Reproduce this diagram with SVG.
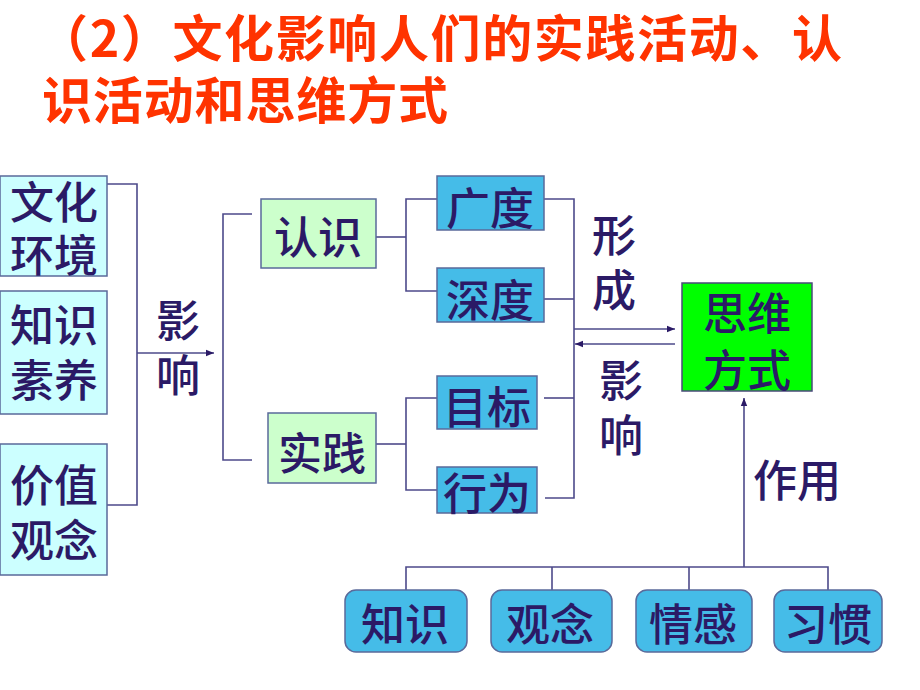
<svg xmlns="http://www.w3.org/2000/svg" width="920" height="690" viewBox="0 0 920 690">
<defs>
<style>
.title{font-family:"Noto Sans CJK SC","Noto Sans",sans-serif;font-weight:700;font-size:50px;fill:#FF3300}
.t{font-family:"Noto Sans CJK SC","Noto Sans",sans-serif;font-weight:500;font-size:44px;fill:#2B1A66;text-anchor:middle}
.cy{fill:#CCFFFF;stroke:#5A6A9A;stroke-width:1.5}
.gr{fill:#CCFFCC;stroke:#5A6A9A;stroke-width:1.5}
.bl{fill:#45BCE8;stroke:#5A6A9A;stroke-width:1.5}
.lg{fill:#00FF00;stroke:#4A4A7A;stroke-width:1.5}
.ln{fill:none;stroke:#4D4A8A;stroke-width:1.6}
</style>
<marker id="ah" viewBox="0 0 10 10" refX="10" refY="5" markerWidth="8" markerHeight="8" markerUnits="userSpaceOnUse" orient="auto">
<path d="M0,1 L10,5 L0,9 z" fill="#2B1A66"/>
</marker>
</defs>
<rect width="920" height="690" fill="#FFFFFF"/>
<g id="title">
<text class="title" x="38" y="57" textLength="804" lengthAdjust="spacing">（2）文化影响人们的实践活动、认</text>
<text class="title" x="42" y="119" textLength="406" lengthAdjust="spacing">识活动和思维方式</text>
</g>
<g id="connectors">
<polyline class="ln" points="107,184 137,184 137,505 107,505"/>
<line class="ln" x1="137" y1="353" x2="214" y2="353" marker-end="url(#ah)"/>
<polyline class="ln" points="252,214 223,214 223,460 252,460"/>
<line class="ln" x1="376" y1="237" x2="406" y2="237"/>
<polyline class="ln" points="437,199 406,199 406,291 437,291"/>
<line class="ln" x1="376" y1="444" x2="406" y2="444"/>
<polyline class="ln" points="437,398 406,398 406,490 437,490"/>
<polyline class="ln" points="544,199 574,199 574,498 545,498"/>
<line class="ln" x1="544" y1="299" x2="574" y2="299"/>
<line class="ln" x1="544" y1="398" x2="574" y2="398"/>
<line class="ln" x1="574" y1="329" x2="675" y2="329" marker-end="url(#ah)"/>
<line class="ln" x1="675" y1="344" x2="575" y2="344" marker-end="url(#ah)"/>
<line class="ln" x1="744" y1="567" x2="744" y2="398" marker-end="url(#ah)"/>
<polyline class="ln" points="406,590 406,567 828,567 828,590"/>
<line class="ln" x1="552" y1="567" x2="552" y2="590"/>
<line class="ln" x1="689" y1="567" x2="689" y2="590"/>
</g>
<g id="label-yingxiang-left">
<text class="t" x="178" y="337">影</text>
<text class="t" x="178" y="392">响</text>
</g>
<g id="label-xingcheng">
<text class="t" x="614" y="252">形</text>
<text class="t" x="614" y="307">成</text>
</g>
<g id="label-yingxiang-right">
<text class="t" x="621" y="397">影</text>
<text class="t" x="621" y="452">响</text>
</g>
<g id="label-zuoyong">
<text class="t" x="797" y="497">作用</text>
</g>
<g id="node-wenhuahuanjing">
<rect class="cy" x="0" y="176" width="107" height="100"/>
<text class="t" x="54" y="219">文化</text>
<text class="t" x="54" y="272">环境</text>
</g>
<g id="node-zhishisuyang">
<rect class="cy" x="0" y="291" width="107" height="123"/>
<text class="t" x="54" y="342">知识</text>
<text class="t" x="54" y="397">素养</text>
</g>
<g id="node-jiazhiguannian">
<rect class="cy" x="0" y="444" width="107" height="131"/>
<text class="t" x="54" y="502">价值</text>
<text class="t" x="54" y="557">观念</text>
</g>
<g id="node-renshi">
<rect class="gr" x="261" y="199" width="115" height="69"/>
<text class="t" x="318" y="254">认识</text>
</g>
<g id="node-shijian">
<rect class="gr" x="268" y="413" width="108" height="70"/>
<text class="t" x="322" y="470">实践</text>
</g>
<g id="node-guangdu">
<rect class="bl" x="437" y="176" width="107" height="54"/>
<text class="t" x="490" y="225">广度</text>
</g>
<g id="node-shendu">
<rect class="bl" x="437" y="268" width="107" height="54"/>
<text class="t" x="490" y="317">深度</text>
</g>
<g id="node-mubiao">
<rect class="bl" x="437" y="376" width="100" height="53"/>
<text class="t" x="487" y="424">目标</text>
</g>
<g id="node-xingwei">
<rect class="bl" x="437" y="467" width="100" height="46"/>
<text class="t" x="487" y="510">行为</text>
</g>
<g id="node-siweifangshi">
<rect class="lg" x="682" y="283" width="130" height="108"/>
<text class="t" x="747" y="330">思维</text>
<text class="t" x="747" y="387">方式</text>
</g>
<g id="node-zhishi">
<rect class="bl" x="345" y="590" width="122" height="62" rx="11"/>
<text class="t" x="405" y="641">知识</text>
</g>
<g id="node-guannian">
<rect class="bl" x="491" y="590" width="121" height="62" rx="11"/>
<text class="t" x="550" y="641">观念</text>
</g>
<g id="node-qinggan">
<rect class="bl" x="636" y="590" width="116" height="62" rx="11"/>
<text class="t" x="693" y="641">情感</text>
</g>
<g id="node-xiguan">
<rect class="bl" x="774" y="590" width="108" height="62" rx="11"/>
<text class="t" x="828" y="641">习惯</text>
</g>
</svg>
